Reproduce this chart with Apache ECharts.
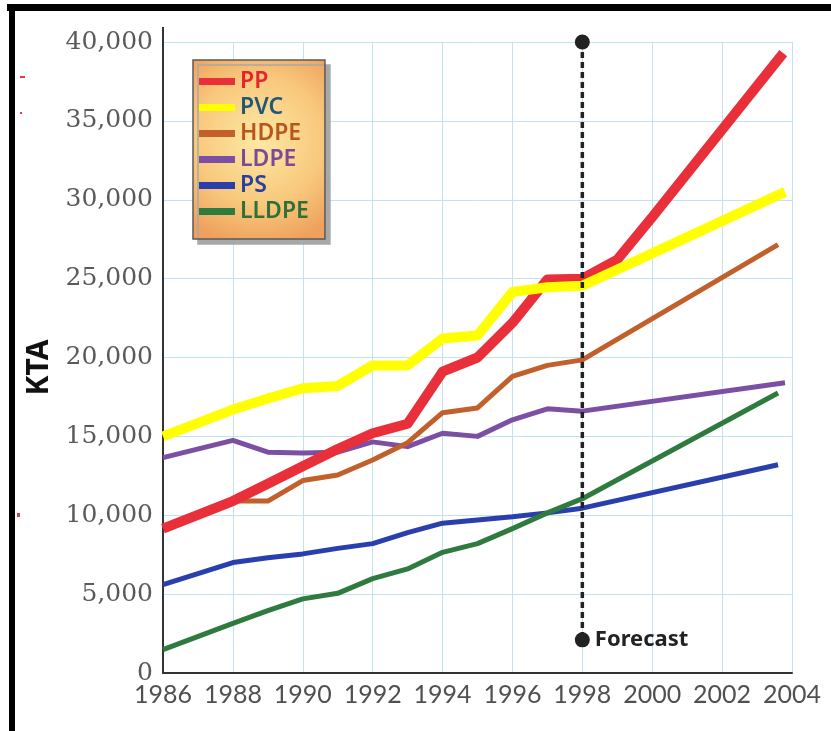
<!DOCTYPE html>
<html>
<head>
<meta charset="utf-8">
<title>Plastics demand, KTA</title>
<script src="https://cdn.jsdelivr.net/npm/echarts@6/dist/echarts.min.js"></script>
<style>
  html, body { margin: 0; padding: 0; background: #fff; }
  #chart { width: 831px; height: 731px; }
</style>
</head>
<body>
<div id="chart"></div>
<script>
// historical years (actuals) shared by all series
const histYears = [1986, 1988, 1989, 1990, 1991, 1992, 1993, 1994, 1995, 1996, 1997, 1998];

const ppHist    = [9150, 10900, 12000, 13100, 14200, 15200, 15800, 19100, 20000, 22200, 24950, 25000];
const pvcHist   = [15000, 16700, 17400, 18050, 18200, 19500, 19500, 21200, 21400, 24150, 24450, 24550];
const hdpeHist  = [null, 10900, 10900, 12200, 12550, 13500, 14600, 16500, 16800, 18800, 19500, 19850];
const ldpeHist  = [13650, 14750, 14000, 13950, 14000, 14650, 14350, 15200, 15000, 16050, 16750, 16600];
const psHist    = [5600, 7000, 7300, 7550, 7900, 8200, 8900, 9500, 9700, 9900, 10150, 10450];
const lldpeHist = [1480, 3150, 3950, 4700, 5050, 5980, 6600, 7650, 8200, 9150, 10150, 11050];

// forecast part: [year, value]
const ppForecast    = [[1999, 26200], [2000, 28900], [2003.75, 39300]];
const pvcForecast   = [[2003.8, 30500]];
const hdpeForecast  = [[2003.6, 27150]];
const ldpeForecast  = [[2003.8, 18400]];
const psForecast    = [[2003.6, 13200]];
const lldpeForecast = [[2003.6, 17750]];

const forecastYear = 1998;
const forecastSpan = [40000, 2100];

const xTicks = { min: 1986, max: 2004, step: 2 };
const yTicks = { min: 0, max: 40000, step: 5000 };

function toPoints(hist, forecast) {
  const pts = [];
  histYears.forEach((y, i) => {
    if (hist[i] != null) pts.push([y, hist[i]]);
  });
  return pts.concat(forecast);
}

const gridColor = '#c2e2f0';

const chart = echarts.init(document.getElementById('chart'));

const option = {
  animation: false,
  backgroundColor: '#fff',
  grid: { left: 163, right: 39, top: 42, bottom: 58, containLabel: false },
  legend: {
    orient: 'vertical',
    left: 193,
    top: 60,
    padding: [9, 16, 15, 6],
    itemWidth: 36,
    itemHeight: 7,
    itemGap: 1,
    icon: 'rect',
    backgroundColor: new echarts.graphic.RadialGradient(0.5, 0.45, 0.8, [
      { offset: 0, color: '#fde9a4' },
      { offset: 0.6, color: '#f8c87c' },
      { offset: 1, color: '#eea05c' }
    ]),
    borderColor: '#5a5a5a',
    borderWidth: 1.5,
    shadowColor: '#a8a8a8',
    shadowBlur: 0,
    shadowOffsetX: 5,
    shadowOffsetY: 5,
    textStyle: { fontFamily: 'Noto Sans', fontSize: 23, fontWeight: 600, lineHeight: 25 },
    data: [
      { name: 'PP', textStyle: { color: '#e3262e' } },
      { name: 'PVC', textStyle: { color: '#1f5878' } },
      { name: 'HDPE', textStyle: { color: '#b8561e' } },
      { name: 'LDPE', textStyle: { color: '#7a4a98' } },
      { name: 'PS', textStyle: { color: '#2a3f9e' } },
      { name: 'LLDPE', textStyle: { color: '#2f7038' } }
    ]
  },
  xAxis: {
    type: 'value',
    min: xTicks.min,
    max: xTicks.max,
    interval: xTicks.step,
    axisLine: { show: true, lineStyle: { color: '#333', width: 2 } },
    axisTick: { show: false },
    splitLine: { show: true, lineStyle: { color: gridColor, width: 1 } },
    axisLabel: {
      formatter: v => String(v),
      fontFamily: 'Lato',
      fontSize: 25,
      color: '#505050',
      margin: 9,
      showMaxLabel: true,
      showMinLabel: true
    }
  },
  yAxis: {
    type: 'value',
    min: yTicks.min,
    max: yTicks.max,
    interval: yTicks.step,
    name: 'KTA',
    nameLocation: 'middle',
    nameRotate: 90,
    nameGap: 108,
    nameTextStyle: { fontFamily: 'Noto Sans', fontWeight: 'bold', fontSize: 30, color: '#111', padding: [0, 20, 0, 0] },
    axisLine: { show: true, lineStyle: { color: '#333', width: 2 } },
    axisTick: { show: false },
    splitLine: { show: true, lineStyle: { color: gridColor, width: 1 } },
    axisLabel: {
      formatter: v => v.toLocaleString('en-US'),
      fontFamily: 'DejaVu Serif',
      fontSize: 25,
      color: '#5a5a5a',
      margin: 10
    }
  },
  series: [
    {
      name: 'PS', type: 'line', symbol: 'none',
      lineStyle: { color: '#2a3fae', width: 5, join: 'round' },
      itemStyle: { color: '#2a3fae' },
      data: toPoints(psHist, psForecast)
    },
    {
      name: 'LLDPE', type: 'line', symbol: 'none',
      lineStyle: { color: '#2f7a3e', width: 5, join: 'round' },
      itemStyle: { color: '#2f7a3e' },
      data: toPoints(lldpeHist, lldpeForecast)
    },
    {
      name: 'LDPE', type: 'line', symbol: 'none',
      lineStyle: { color: '#7b4fa3', width: 5, join: 'round' },
      itemStyle: { color: '#7b4fa3' },
      data: toPoints(ldpeHist, ldpeForecast)
    },
    {
      name: 'HDPE', type: 'line', symbol: 'none',
      lineStyle: { color: '#c2602c', width: 5, join: 'round' },
      itemStyle: { color: '#c2602c' },
      data: toPoints(hdpeHist, hdpeForecast)
    },
    {
      name: 'PP', type: 'line', symbol: 'none',
      lineStyle: { color: '#e9303a', width: 10, join: 'round' },
      itemStyle: { color: '#e9303a' },
      data: toPoints(ppHist, ppForecast)
    },
    {
      name: 'PVC', type: 'line', symbol: 'none',
      lineStyle: { color: '#ffff00', width: 10, join: 'round' },
      itemStyle: { color: '#ffff00' },
      data: toPoints(pvcHist, pvcForecast)
    },
    {
      name: 'Forecast', type: 'line',
      symbol: 'circle', symbolSize: 15,
      itemStyle: { color: '#222' },
      lineStyle: { color: '#222', width: 3.5, type: [6, 4] },
      z: 5,
      data: [
        [forecastYear, forecastSpan[0]],
        {
          value: [forecastYear, forecastSpan[1]],
          label: {
            show: true, position: 'right', distance: 5,
            formatter: 'Forecast',
            fontFamily: 'Noto Sans', fontWeight: 'bold', fontSize: 22, color: '#222'
          }
        }
      ]
    }
  ],
  graphic: [
    // scan frame, top and left
    { type: 'rect', shape: { x: 7, y: 4, width: 824, height: 7 }, style: { fill: '#000' } },
    { type: 'rect', shape: { x: 9, y: 4, width: 6, height: 727 }, style: { fill: '#000' } },
    // axis line overshoot above top grid line
    { type: 'line', shape: { x1: 163, y1: 27, x2: 163, y2: 42 }, style: { stroke: '#333', lineWidth: 2 } },
    // small red specks on the left margin
    { type: 'rect', shape: { x: 20, y: 76, width: 5, height: 2 }, style: { fill: '#e04040' } },
    { type: 'rect', shape: { x: 20, y: 112, width: 2, height: 2 }, style: { fill: '#e04040' } },
    { type: 'rect', shape: { x: 17, y: 513, width: 3, height: 4 }, style: { fill: '#e04040' } }
  ]
};

chart.setOption(option);
</script>
</body>
</html>
